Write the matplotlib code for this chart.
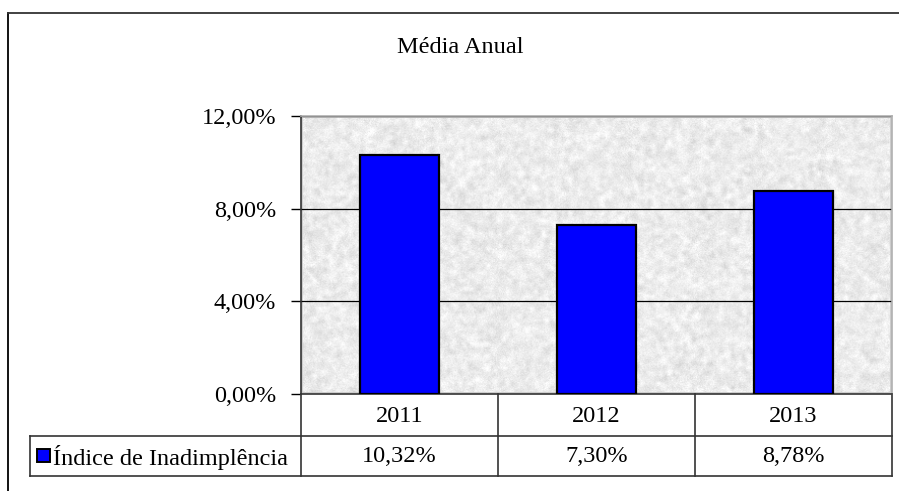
import numpy as np
import matplotlib
matplotlib.use("Agg")
import matplotlib.pyplot as plt
import matplotlib.transforms as mtransforms
from matplotlib.patches import Rectangle

plt.rcParams['font.family'] = ['Liberation Serif', 'DejaVu Serif']

anos = ['2011', '2012', '2013']
inadimplencia = [10.32, 7.30, 8.78]
rotulos_valores = ['10,32%', '7,30%', '8,78%']
y_ticks = [0, 4, 8, 12]
y_labels = ['0,00%', '4,00%', '8,00%', '12,00%']
titulo = 'Média Anual'
serie = 'Índice de Inadimplência'

W, H = 899, 491
FS = 17.5
fig = plt.figure(figsize=(W / 100, H / 100), dpi=100)

# overlay in pixel coordinates for frame / table pieces
ov = fig.add_axes([0, 0, 1, 1])
ov.set_xlim(0, W)
ov.set_ylim(H, 0)
ov.axis('off')

# plot area: x 301..892, y 116..394 (pixels)
L, R, T, B = 301, 892, 116, 394
ax = fig.add_axes([L / W, (H - B) / H, (R - L) / W, (B - T) / H])

# speckled gray background
rng = np.random.default_rng(3)
small = rng.normal(0.925, 0.035, (70, 150))
big = np.kron(small, np.ones((4, 4)))
k = np.ones(5) / 5
big = np.apply_along_axis(lambda r: np.convolve(r, k, 'same'), 1, big)
big = np.apply_along_axis(lambda c: np.convolve(c, k, 'same'), 0, big)
big = big + rng.normal(0, 0.022, big.shape)
big = np.clip(big, 0.8, 1.0)
ax.imshow(big, cmap='gray', vmin=0, vmax=1, extent=(-0.5, 2.5, 0, 12),
          aspect='auto', zorder=0, interpolation='bilinear')

x = np.arange(len(anos))
ax.bar(x, inadimplencia, width=0.405, color='#0000ff', edgecolor='black',
       linewidth=1.6, zorder=3)
ax.set_xlim(-0.5, 2.5)
ax.set_ylim(0, 12)
ax.set_yticks(y_ticks)
ax.set_yticklabels(y_labels, fontsize=FS)
ax.set_xticks([])
for yv in y_ticks[1:]:
    ax.axhline(yv, color='black', linewidth=0.9, zorder=2)
ax.tick_params(axis='y', length=7, width=1, pad=11, direction='out')
for s in ['top', 'right']:
    ax.spines[s].set_color('#b0b0b0')
    ax.spines[s].set_linewidth(1.2)
ax.spines['left'].set_color('#333333')
ax.spines['left'].set_linewidth(1.2)
ax.spines['bottom'].set_color('#333333')
ax.spines['bottom'].set_linewidth(1.2)

# data table below the axis
row1 = 436
row2 = 476
tr = mtransforms.blended_transform_factory(ax.transData, ov.transData)
lc = '#333333'
for xs in [x[0] - 0.5] + list(x + 0.5):
    ax.plot([xs, xs], [B, row2], color=lc, linewidth=1.2, transform=tr,
            clip_on=False)
ov.plot([30, R], [row1, row1], color=lc, linewidth=1.2)
ov.plot([30, R], [row2, row2], color=lc, linewidth=1.2)
ov.plot([30, 30], [row1, row2], color=lc, linewidth=1.2)
for xi, ano, val in zip(x, anos, rotulos_valores):
    ax.text(xi, (B + row1) / 2 + 1, ano, transform=tr, ha='center',
            va='center', fontsize=FS, clip_on=False)
    ax.text(xi, (row1 + row2) / 2 + 1, val, transform=tr, ha='center',
            va='center', fontsize=FS, clip_on=False)

# legend key inside table
ov.add_patch(Rectangle((37, 449), 13, 13, facecolor='#0000ff',
                       edgecolor='black', linewidth=1.4))
ov.text(53, (row1 + row2) / 2 + 1, serie, ha='left', va='center', fontsize=FS)

# chart title
ov.text(460, 47, titulo, ha='center', va='center', fontsize=FS)

# outer chart frame (left and top visible)
ov.plot([8, 8], [13, H], color='black', linewidth=1.3)
ov.plot([8, W], [13, 13], color='#333333', linewidth=1.3)

fig.savefig('out.png', dpi=100)
